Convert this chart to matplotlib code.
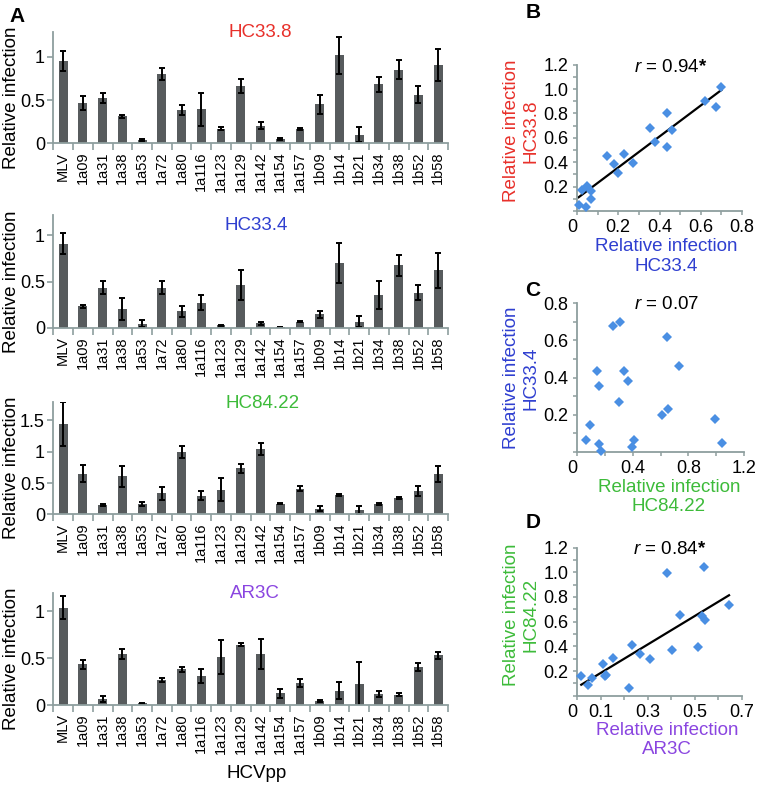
import numpy as np
import matplotlib
matplotlib.use("Agg")
import matplotlib.pyplot as plt
from matplotlib.ticker import MultipleLocator

plt.rcParams['font.family'] = ['Liberation Sans', 'DejaVu Sans']
plt.rcParams['mathtext.fontset'] = 'custom'
plt.rcParams['mathtext.it'] = 'Liberation Sans:italic'
plt.rcParams['mathtext.bf'] = 'Liberation Sans:bold'
plt.rcParams['mathtext.rm'] = 'Liberation Sans'

STRAINS = ["MLV", "1a09", "1a31", "1a38", "1a53", "1a72", "1a80", "1a116", "1a123",
           "1a129", "1a142", "1a154", "1a157", "1b09", "1b14", "1b21", "1b34", "1b38",
           "1b52", "1b58"]

HC338 = [0.95, 0.465, 0.525, 0.31, 0.035, 0.80, 0.385, 0.395, 0.17, 0.66, 0.205,
         0.05, 0.168, 0.453, 1.015, 0.10, 0.68, 0.852, 0.563, 0.905]
HC338_ERR = [0.12, 0.08, 0.06, 0.02, 0.01, 0.07, 0.06, 0.19, 0.02, 0.08, 0.045,
             0.01, 0.01, 0.11, 0.21, 0.09, 0.09, 0.11, 0.10, 0.18]

HC334 = [0.91, 0.23, 0.435, 0.20, 0.045, 0.435, 0.18, 0.27, 0.025, 0.46, 0.047,
         0.008, 0.067, 0.145, 0.70, 0.067, 0.353, 0.675, 0.38, 0.62]
HC334_ERR = [0.11, 0.02, 0.07, 0.12, 0.04, 0.07, 0.06, 0.08, 0.005, 0.16, 0.02,
             0.003, 0.01, 0.04, 0.22, 0.06, 0.15, 0.11, 0.08, 0.19]

HC8422 = [1.44, 0.652, 0.145, 0.61, 0.16, 0.335, 0.993, 0.30, 0.393, 0.735, 1.044,
          0.17, 0.41, 0.09, 0.308, 0.065, 0.16, 0.257, 0.368, 0.645]
HC8422_ERR = [0.35, 0.13, 0.02, 0.17, 0.03, 0.10, 0.10, 0.07, 0.18, 0.07, 0.10,
              0.005, 0.04, 0.04, 0.02, 0.06, 0.015, 0.02, 0.08, 0.13]

AR3C = [1.04, 0.435, 0.065, 0.544, 0.018, 0.268, 0.38, 0.31, 0.515, 0.645, 0.54,
        0.125, 0.232, 0.045, 0.153, 0.22, 0.12, 0.112, 0.405, 0.53]
AR3C_ERR = [0.12, 0.05, 0.03, 0.05, 0.005, 0.02, 0.03, 0.075, 0.18, 0.015, 0.16,
            0.045, 0.045, 0.01, 0.09, 0.24, 0.03, 0.02, 0.04, 0.035]

R_TEXT = [r"$\mathit{r}$ = 0.94$\mathbf{*}$", r"$\mathit{r}$ = 0.07",
          r"$\mathit{r}$ = 0.84$\mathbf{*}$"]

RED = "#e8302a"
BLUE = "#2f3fd0"
GREEN = "#3dbb3a"
PURPLE = "#8a45e0"
BAR_COLOR = "#575b5d"
AXIS = "#8e9e9e"
DOT = "#4a8fe3"

W, H = 764, 794
fig = plt.figure(figsize=(W / 100, H / 100), dpi=100)


def box(l, t, r, b):
    return [l / W, 1 - b / H, (r - l) / W, (b - t) / H]


def ftext(x, y, s, **kw):
    fig.text(x / W, 1 - y / H, s, **kw)


def style_axes(ax):
    for s in ["top", "right"]:
        ax.spines[s].set_visible(False)
    for s in ["left", "bottom"]:
        ax.spines[s].set_color(AXIS)
        ax.spines[s].set_linewidth(1.3)


def bar_panel(rect, vals, errs, title, color, ymax, yticks, ylabels, tx, ty):
    ax = fig.add_axes(box(*rect))
    x = np.arange(len(STRAINS))
    ax.bar(x, vals, width=0.45, color=BAR_COLOR, yerr=errs,
           error_kw=dict(ecolor="black", elinewidth=1.4, capsize=2.2, capthick=1.4),
           zorder=2)
    ax.set_xlim(-0.5, len(STRAINS) - 0.5)
    ax.set_ylim(0, ymax)
    style_axes(ax)
    ax.set_xticks(x)
    ax.set_xticklabels(STRAINS, rotation=90, fontsize=10.5)
    ax.tick_params(axis="x", which="major", length=0, pad=6)
    ax.set_xticks(np.arange(-0.5, len(STRAINS), 1), minor=True)
    ax.tick_params(axis="x", which="minor", length=5, width=1.2, color=AXIS)
    ax.set_yticks(yticks)
    ax.set_yticklabels(ylabels, fontsize=13)
    ax.tick_params(axis="y", length=4, width=1.2, color=AXIS, pad=2)
    ax.set_ylabel("Relative infection", fontsize=13.5, va="center")
    ax.yaxis.set_label_coords(-0.107, 0.41)
    ax.text(tx, ty, title, color=color, transform=ax.transAxes, ha="center",
            va="center", fontsize=13.5)
    return ax


bar_panel((53.3, 31.7, 448, 143.3), HC338, HC338_ERR, "HC33.8", RED, 1.29,
          [0, 0.5, 1], ["0", "0.5", "1"], 0.525, 0.99)
bar_panel((53.3, 215, 448, 327.7), HC334, HC334_ERR, "HC33.4", BLUE, 1.22,
          [0, 0.5, 1], ["0", "0.5", "1"], 0.515, 0.91)
bar_panel((53.3, 401.7, 448, 514.3), HC8422, HC8422_ERR, "HC84.22", GREEN, 1.8,
          [0, 0.5, 1, 1.5], ["0", "0.5", "1", "1.5"], 0.53, 0.985)
bar_panel((53.3, 592.7, 448, 705), AR3C, AR3C_ERR, "AR3C", PURPLE, 1.2,
          [0, 0.5, 1], ["0", "0.5", "1"], 0.51, 0.995)
ftext(256.7, 773.3, "HCVpp", fontsize=13.5, ha="center", va="center")


def scatter_panel(rect, xs, ys, xmax, ymax, xstep, ystep, xminor, yminor,
                  xlabels, rtext, rpos, fit, ylab, ylab_col, ylab_pos,
                  xlab, xlab_col, xlab_pos):
    ax = fig.add_axes(box(*rect))
    xs = np.array(xs)
    ys = np.array(ys)
    ax.plot(xs, ys, "D", color=DOT, markersize=5, markeredgewidth=0, zorder=3,
            clip_on=False)
    if fit:
        k, c = np.polyfit(xs, ys, 1)
        lx = np.array([xs.min(), xs.max()])
        ax.plot(lx, k * lx + c, color="black", lw=1.6, zorder=2)
    ax.set_xlim(0, xmax)
    ax.set_ylim(0, ymax)
    style_axes(ax)
    xt = np.arange(0, xmax + 1e-9, xstep)
    ax.set_xticks(xt)
    ax.set_xticklabels(xlabels, fontsize=13)
    ax.xaxis.set_minor_locator(MultipleLocator(xminor))
    yt = np.arange(ystep, ymax + 1e-9, ystep)
    ax.set_yticks(yt)
    ax.set_yticklabels([f"{v:.1f}" for v in yt], fontsize=13)
    ax.yaxis.set_minor_locator(MultipleLocator(yminor))
    ax.tick_params(which="both", length=3, width=1.1, color=AXIS, pad=3)
    ax.get_xticklabels()[0].set_horizontalalignment("right")
    ftext(rpos[0], rpos[1], rtext, fontsize=13.5, ha="center", va="center")
    ftext(ylab_pos[0], ylab_pos[1], ylab, color=ylab_col, fontsize=13.5,
          rotation=90, ha="center", va="center", multialignment="center",
          linespacing=1.2)
    ftext(xlab_pos[0], xlab_pos[1], xlab, color=xlab_col, fontsize=13.5,
          ha="center", va="center", multialignment="center", linespacing=1.2)
    return ax


scatter_panel((577, 64.6, 742, 211), HC334[1:], HC338[1:], 0.8, 1.2, 0.2, 0.2,
              0.1, 0.1, ["0", "0.2", "0.4", "0.6", "0.8"], R_TEXT[0], (671, 68),
              True, "Relative infection\nHC33.8", RED, (521, 131),
              "Relative infection\nHC33.4", BLUE, (666, 256.5))
scatter_panel((577, 303.2, 744, 452), HC8422[1:], HC334[1:], 1.2, 0.8, 0.4, 0.2,
              0.2, 0.1, ["0", "0.4", "0.8", "1.2"], R_TEXT[1], (667, 305),
              False, "Relative infection\nHC33.4", BLUE, (521, 378),
              "Relative infection\nHC84.22", GREEN, (669, 497))
scatter_panel((577, 547.6, 742, 695.7), AR3C[1:], HC8422[1:], 0.7, 1.2, 0.1, 0.2,
              0.1, 0.1, ["0", "0.1", "", "0.3", "", "0.5", "", "0.7"], R_TEXT[2],
              (670, 550), True, "Relative infection\nHC84.22", GREEN, (521, 615),
              "Relative infection\nAR3C", PURPLE, (667, 740))

for letter, (px, py) in zip("ABCD", [(17, 17), (533, 13), (533, 290), (533, 523)]):
    ftext(px, py, letter, fontsize=15, fontweight="bold", ha="center", va="center")

fig.savefig("out.png", dpi=100)
